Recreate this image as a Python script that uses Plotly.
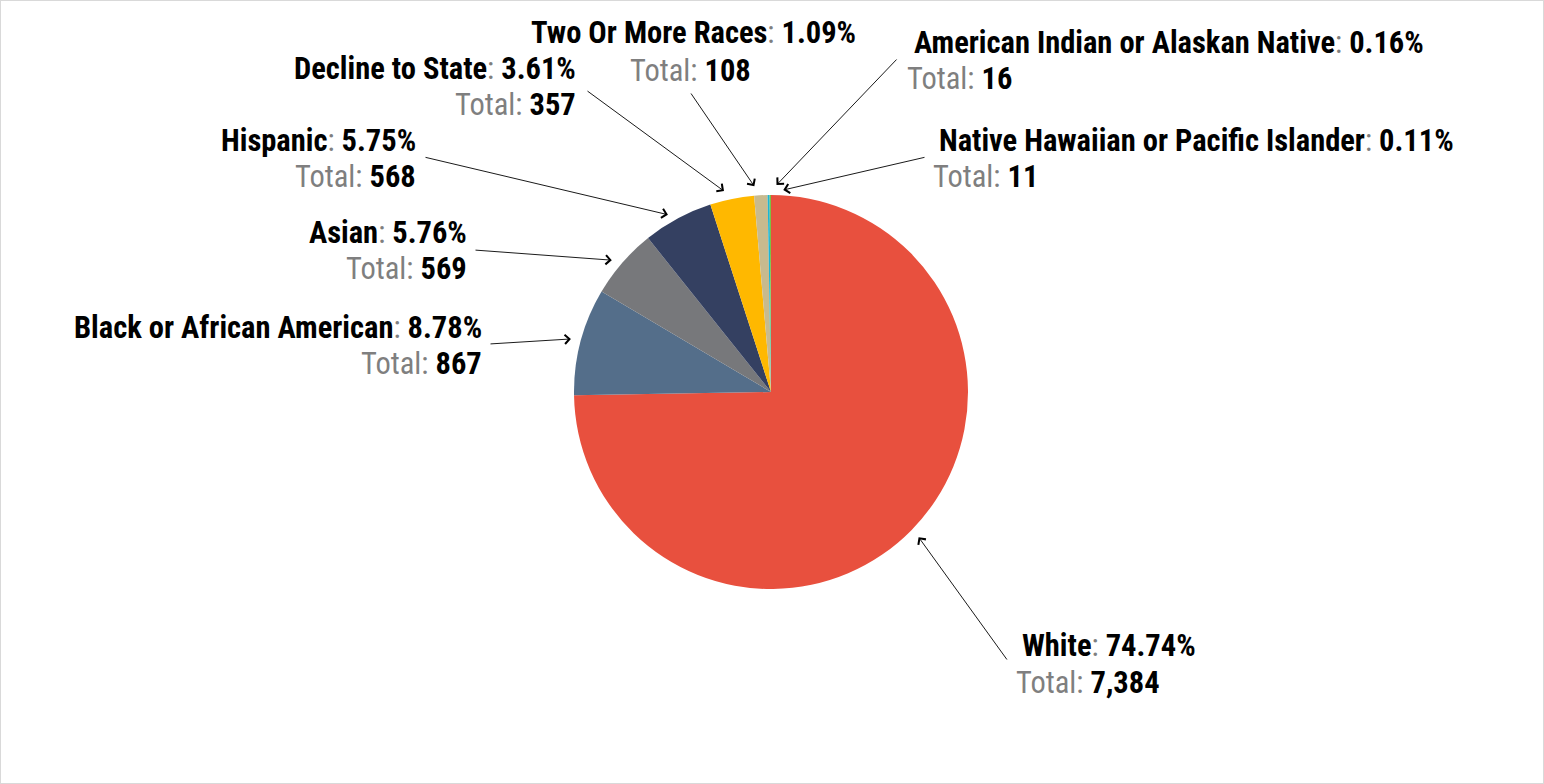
import math
import plotly.graph_objects as go

# ---- data ----
categories = ["White", "Black or African American", "Asian", "Hispanic",
              "Decline to State", "Two Or More Races",
              "American Indian or Alaskan Native", "Native Hawaiian or Pacific Islander"]
totals = [7384, 867, 569, 568, 357, 108, 16, 11]
colors = ["#E8503E", "#546E8A", "#77787B", "#344061",
          "#FFB800", "#C8BA8E", "#1CB5D6", "#7AC143"]

# ---- layout constants (pixels) ----
W, H = 1544, 784
CX, CY, R = 771, 392, 197
R_TIP = 207
FONT = "Roboto Condensed, Arial Narrow, Liberation Sans, sans-serif"
FS = 30.5
GRAY = "#7F7F7F"

# label placements: (line1 x, line1 y, line2 x, line2 y, anchor)
label_pos = [
    (1021, 645, 1015, 682, "left"),
    (483, 327, 483, 363, "right"),
    (468, 232, 468, 268, "right"),
    (417, 140, 417, 176, "right"),
    (577, 69, 577, 105, "right"),
    (693, 33, 690, 70, "center"),
    (913, 42, 906, 78, "left"),
    (938, 140, 932, 176, "left"),
]
arrow_tail = [(1008, 661), (489, 344), (474, 250), (424, 157),
              (586, 90), (690, 92), (898, 58), (926, 157)]
tip_nudge = [(0, 0), (0, 0), (-3, 4), (-5, 5), (-6, 2), (-6, 1), (8, 0), (13, 5)]


def px(x):
    return x / W


def py(y):
    return 1 - y / H


fig = go.Figure(go.Pie(
    labels=categories, values=totals, sort=False, direction="clockwise",
    rotation=0, marker=dict(colors=colors, line=dict(width=0)),
    textinfo="none", hoverinfo="label+value+percent", showlegend=False,
    domain=dict(x=[px(CX - R), px(CX + R)], y=[py(CY + R), py(CY - R)]),
))

annotations = []
total = sum(totals)
cum = 0
for i, (cat, v) in enumerate(zip(categories, totals)):
    mid = (cum + v / 2) / total * 2 * math.pi
    cum += v
    tx = CX + R_TIP * math.sin(mid) + tip_nudge[i][0]
    ty = CY - R_TIP * math.cos(mid) + tip_nudge[i][1]
    ax, ay = arrow_tail[i]
    annotations.append(dict(
        x=px(tx), y=py(ty), xref="paper", yref="paper", text="",
        showarrow=True, ax=ax - tx, ay=ay - ty, arrowhead=4, arrowsize=2,
        arrowwidth=0.9, arrowcolor="#000000", standoff=0, startstandoff=0))
    pct = v / total * 100
    x1, y1, x2, y2, anc = label_pos[i]
    line1 = f"<b>{cat}</b><span style='color:{GRAY}'>: </span><b>{pct:.2f}%</b>"
    line2 = f"<span style='color:{GRAY}'>Total: </span><b>{v:,}</b>"
    for (lx, ly, txt) in ((x1, y1, line1), (x2, y2, line2)):
        annotations.append(dict(
            x=px(lx), y=py(ly), xref="paper", yref="paper", text=txt,
            showarrow=False, xanchor=anc, yanchor="middle", align=anc,
            font=dict(family=FONT, size=FS, color="#000000"), borderpad=0))

fig.update_layout(
    width=W, height=H, margin=dict(l=0, r=0, t=0, b=0),
    paper_bgcolor="white", annotations=annotations,
    shapes=[dict(type="rect", xref="paper", yref="paper", x0=0, y0=0, x1=1, y1=1,
                 line=dict(color="#D9D9D9", width=2))],
)

fig.write_html("out.html", config={"displayModeBar": False})

# remove the default page margin so the figure sits at the window origin
with open("out.html", encoding="utf-8") as f:
    html = f.read()
html = html.replace("<head>", "<head><style>html,body{margin:0;padding:0;overflow:hidden}</style>", 1)
with open("out.html", "w", encoding="utf-8") as f:
    f.write(html)
